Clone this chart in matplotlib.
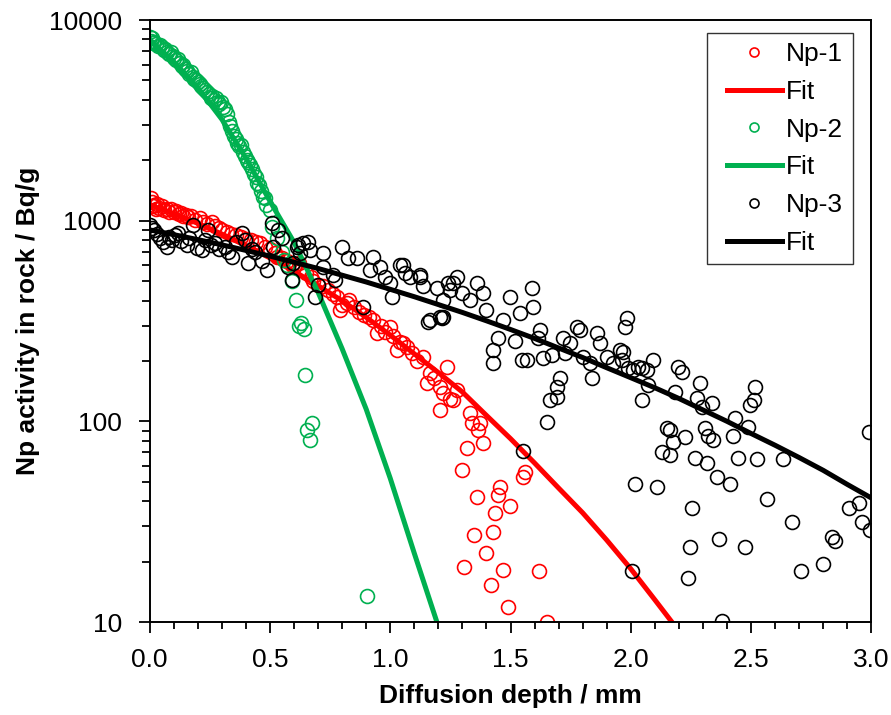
import numpy as np
import matplotlib
matplotlib.use("Agg")
import matplotlib.pyplot as plt
from matplotlib.lines import Line2D
from matplotlib.legend_handler import HandlerLine2D
from matplotlib.ticker import FixedLocator, MultipleLocator, NullFormatter

plt.rcParams["font.family"] = ["Liberation Sans", "DejaVu Sans"]

# Np-1 measured points (depth mm, activity Bq/g)
np1_x = [0.005, 0.01, 0.015, 0.02, 0.025, 0.03, 0.04, 0.05, 0.06, 0.07, 0.08, 0.09,
         0.10, 0.11, 0.12, 0.13, 0.14, 0.15, 0.16, 0.17, 0.19, 0.21, 0.22, 0.24, 0.26,
         0.27, 0.29, 0.30, 0.32, 0.34, 0.36, 0.38, 0.40, 0.42, 0.44, 0.46, 0.48, 0.50,
         0.52, 0.53, 0.55, 0.57, 0.59, 0.60, 0.62, 0.63, 0.65, 0.67, 0.68, 0.70, 0.72,
         0.74, 0.76, 0.78, 0.79, 0.80, 0.82, 0.83, 0.85, 0.87, 0.89, 0.91, 0.93, 0.945,
         0.96, 0.98, 1.00, 1.01, 1.028, 1.04, 1.053, 1.07, 1.09, 1.11, 1.136, 1.153,
         1.165, 1.18, 1.207, 1.207, 1.22, 1.236, 1.25, 1.26, 1.277, 1.298, 1.307, 1.319,
         1.33, 1.34, 1.348, 1.36, 1.365, 1.373, 1.386, 1.398, 1.419, 1.427, 1.436, 1.448,
         1.457, 1.469, 1.49, 1.498, 1.552, 1.56, 1.619, 1.652]
np1_y = [1300, 1240, 1180, 1200, 1150, 1210, 1160, 1180, 1130, 1150, 1110, 1140,
         1100, 1120, 1080, 1090, 1060, 1070, 1040, 1050, 1010, 1030, 990, 960, 980,
         940, 920, 900, 880, 860, 850, 830, 810, 800, 780, 770, 740, 720,
         690, 660, 650, 630, 600, 590, 615, 570, 550, 525, 500, 480, 470,
         450, 430, 417, 359, 380, 390, 403, 370, 350, 340, 330, 320, 275,
         300, 280, 295, 265, 227, 250, 245, 235, 220, 200, 209, 155,
         174, 165, 148, 114, 138, 187, 130, 128, 143, 57, 18.8, 74,
         110, 98, 27, 42, 91, 98, 78, 22, 15.3, 28, 35, 43,
         47, 18.2, 11.9, 38, 53, 56, 18, 10]

# Np-2 measured points
np2_x = [0.000, 0.005, 0.010, 0.015, 0.020, 0.028, 0.035, 0.042, 0.050, 0.058, 0.065,
         0.072, 0.080, 0.088, 0.095, 0.103, 0.110, 0.118, 0.125, 0.133, 0.140, 0.148,
         0.155, 0.163, 0.170, 0.178, 0.185, 0.193, 0.200, 0.208, 0.215, 0.223, 0.230,
         0.238, 0.245, 0.253, 0.260, 0.268, 0.275, 0.283, 0.290, 0.298, 0.305, 0.313,
         0.320, 0.328, 0.335, 0.343, 0.350, 0.358, 0.365, 0.373, 0.380, 0.388, 0.395,
         0.403, 0.410, 0.418, 0.425, 0.433, 0.440, 0.448, 0.455, 0.463, 0.470, 0.478,
         0.485, 0.500, 0.510, 0.530, 0.550, 0.560, 0.570, 0.590, 0.610, 0.620, 0.630,
         0.640, 0.645, 0.655, 0.665, 0.675, 0.905]
np2_y = [8200, 7900, 8100, 7700, 7800, 7600, 7400, 7500, 7300, 7100, 7200,
         6900, 6800, 6900, 6600, 6500, 6300, 6400, 6100, 5900, 6000, 5700,
         5600, 5400, 5500, 5200, 5100, 5000, 4900, 4800, 4700, 4600, 4500,
         4400, 4300, 4100, 4200, 4000, 4100, 3900, 3800, 3900, 3700, 3600,
         3400, 3100, 2950, 2800, 2650, 2550, 2450, 2350, 2380, 2200, 2100,
         2000, 1950, 1900, 1800, 1700, 1650, 1550, 1500, 1400, 1320, 1300,
         1200, 1130, 930, 820, 700, 640, 600, 500, 403, 300, 310,
         290, 170, 91, 81, 98, 13.5]

# Np-3 measured points
np3_x = [0.000, 0.010, 0.020, 0.030, 0.042, 0.055, 0.070, 0.080, 0.092, 0.105, 0.117,
         0.130, 0.154, 0.165, 0.179, 0.195, 0.216, 0.230, 0.241, 0.255, 0.270, 0.290,
         0.312, 0.325, 0.341, 0.360, 0.383, 0.395, 0.408, 0.425, 0.437, 0.466, 0.487,
         0.508, 0.512, 0.533, 0.550, 0.574, 0.591, 0.595, 0.612, 0.616, 0.624, 0.637,
         0.657, 0.666, 0.687, 0.700, 0.720, 0.720, 0.760, 0.770, 0.800, 0.825, 0.860,
         0.886, 0.916, 0.928, 0.957, 0.978, 1.000, 1.007, 1.040, 1.053, 1.061, 1.082,
         1.124, 1.124, 1.136, 1.157, 1.165, 1.194, 1.207, 1.215, 1.220, 1.220, 1.240,
         1.248, 1.260, 1.277, 1.300, 1.332, 1.360, 1.386, 1.400, 1.427, 1.427, 1.448,
         1.469, 1.498, 1.519, 1.540, 1.548, 1.552, 1.569, 1.590, 1.594, 1.615, 1.623,
         1.635, 1.652, 1.665, 1.673, 1.694, 1.694, 1.706, 1.719, 1.727, 1.748, 1.777,
         1.790, 1.802, 1.831, 1.839, 1.860, 1.873, 1.902, 1.927, 1.956, 1.964, 1.968,
         1.977, 1.985, 1.990, 2.006, 2.010, 2.018, 2.031, 2.047, 2.047, 2.068, 2.072,
         2.093, 2.110, 2.131, 2.151, 2.164, 2.164, 2.176, 2.185, 2.197, 2.214, 2.226,
         2.239, 2.247, 2.256, 2.268, 2.276, 2.289, 2.297, 2.310, 2.318, 2.322, 2.339,
         2.343, 2.360, 2.368, 2.380, 2.414, 2.426, 2.434, 2.447, 2.476, 2.489, 2.497,
         2.510, 2.518, 2.526, 2.568, 2.634, 2.668, 2.709, 2.797, 2.838, 2.850, 2.905,
         2.950, 2.959, 2.988, 2.996]
np3_y = [950, 920, 900, 860, 820, 780, 740, 830, 800, 850, 870,
         790, 760, 820, 950, 730, 715, 800, 900, 760, 775, 720,
         740, 700, 660, 780, 870, 800, 615, 720, 700, 630, 570,
         975, 740, 900, 820, 590, 507, 615, 740, 760, 690, 775,
         780, 715, 417, 480, 690, 590, 535, 507, 740, 650, 650,
         372, 570, 660, 590, 525, 490, 417, 600, 600, 550, 525,
         525, 535, 470, 313, 320, 462, 330, 327, 330, 403, 490,
         452, 490, 525, 437, 403, 490, 437, 359, 227, 195, 261,
         320, 417, 251, 347, 202, 71, 202, 462, 372, 261, 285,
         207, 99, 128, 214, 148, 132, 164, 261, 219, 245, 295,
         285, 209, 195, 164, 275, 245, 209, 195, 227, 202, 222,
         295, 327, 185, 18, 180, 49, 186, 184, 128, 180, 151,
         202, 47, 70, 93, 91, 68, 79, 140, 186, 176, 84,
         16.6, 23.7, 37, 66, 131, 155, 118, 93, 62, 85, 123,
         81, 53, 26, 10.1, 49, 85, 104, 66, 23.7, 94, 121,
         128, 148, 65, 41, 65, 31.6, 18, 19.5, 26.5, 25.3, 37,
         39, 31.6, 88.5, 28.8]

# fitted profiles
fit_x = [0.0, 0.1, 0.2, 0.3, 0.4, 0.5, 0.6, 0.7, 0.8, 0.9, 1.0, 1.1, 1.2, 1.3,
         1.4, 1.5, 1.6, 1.7, 1.8, 1.9, 2.0, 2.1, 2.2, 2.3, 2.4, 2.5, 2.6, 2.7,
         2.8, 2.9, 3.0]
fit1_y = [1200, 1084, 970, 858, 752, 652, 560, 474, 399, 330, 269, 217, 175, 140,
          107, 82, 62, 46.5, 35, 25.6, 18.4, 12.9, 9.0, 6.5, 4.6, 3.2, 2.2, 1.5,
          1.0, 0.7, 0.5]
fit2_y = [8000, 6200, 4600, 3200, 2050, 1250, 780, 440, 230, 115, 52, 22, 9.5,
          3.8, 1.4, 0.5, 0.2, 0.1, 0.1, 0.1, 0.1, 0.1, 0.1, 0.1, 0.1, 0.1, 0.1, 0.1,
          0.1, 0.1, 0.1]
fit3_y = [900, 852, 805, 758, 711, 666, 621, 578, 535, 495, 455, 418, 382, 349,
          317, 287, 259, 232, 208, 185, 165, 147, 130, 114, 100, 87, 76, 66,
          57, 48.5, 41.5]

red = "#FF0000"
green = "#00B050"
black = "#000000"
fs = 19

fig = plt.figure(figsize=(8.91, 7.15), dpi=100)
ax = fig.add_axes([0.168, 0.130, 0.810, 0.842])

mk = dict(marker="o", linestyle="none", markersize=10, markerfacecolor="none",
          markeredgewidth=1.2)
ax.plot(np1_x, np1_y, markeredgecolor=red, label="Np-1", **mk)
ax.plot(fit_x, fit1_y, color=red, lw=3.6, label="Fit")
ax.plot(np2_x, np2_y, markeredgecolor=green, label="Np-2", **mk)
ax.plot(fit_x, fit2_y, color=green, lw=3.6, label="Fit")
ax.plot(np3_x, np3_y, markeredgecolor=black, label="Np-3", **mk)
ax.plot(fit_x, fit3_y, color=black, lw=3.6, label="Fit")

ax.set_yscale("log")
ax.set_xlim(0, 3.0)
ax.set_ylim(10, 10000)

ax.xaxis.set_major_locator(MultipleLocator(0.5))
ax.xaxis.set_minor_locator(MultipleLocator(0.1))
ax.xaxis.set_major_formatter(plt.FormatStrFormatter("%.1f"))
ax.yaxis.set_major_locator(FixedLocator([10, 100, 1000, 10000]))
ax.set_yticklabels(["10", "100", "1000", "10000"])
ax.yaxis.set_minor_formatter(NullFormatter())

ax.tick_params(which="both", direction="out", width=1.3, labelsize=fs,
               top=False, right=False)
ax.tick_params(which="major", length=8)
ax.tick_params(which="minor", length=6)
ax.tick_params(axis="x", which="minor", length=5)
ax.tick_params(axis="x", which="major", pad=11)
ax.tick_params(axis="y", which="major", pad=12)
for s in ax.spines.values():
    s.set_linewidth(1.4)

ax.set_xlabel("Diffusion depth / mm", fontsize=fs, fontweight="bold", labelpad=8)
ax.set_ylabel("Np activity in rock / Bq/g", fontsize=fs, fontweight="bold",
              labelpad=6)

leg = ax.legend(loc="upper right", bbox_to_anchor=(0.974, 0.979), borderaxespad=0,
                fancybox=False, edgecolor="black", fontsize=fs, markerscale=0.65,
                handlelength=2.5, handletextpad=0.15, labelspacing=0.52,
                borderpad=0.36, handler_map={Line2D: HandlerLine2D(xpad=0.4)})
leg.get_frame().set_linewidth(1.0)

fig.savefig("out.png", dpi=100)
